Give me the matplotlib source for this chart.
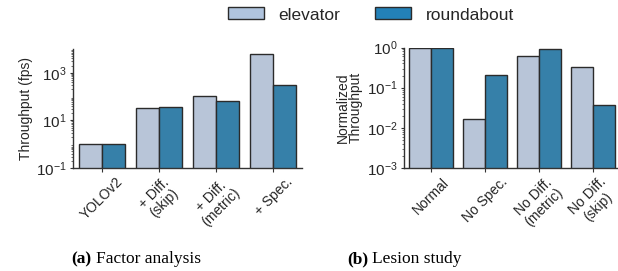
import numpy as np
import matplotlib.pyplot as plt
from matplotlib.patches import Patch
from matplotlib.ticker import LogLocator, NullFormatter

plt.rcParams['font.family'] = ['Liberation Sans', 'DejaVu Sans']
plt.rcParams['mathtext.fontset'] = 'custom'
plt.rcParams['mathtext.rm'] = 'Liberation Sans'
plt.rcParams['mathtext.it'] = 'Liberation Sans:italic'
plt.rcParams['mathtext.bf'] = 'Liberation Sans:bold'

series = ["elevator", "roundabout"]

factor_labels = ["YOLOv2", "+ Diff.\n(skip)", "+ Diff.\n(metric)", "+ Spec."]
factor_elevator = [1.0, 32, 102, 6400]
factor_roundabout = [1.0, 35, 63, 300]

lesion_labels = ["Normal", "No Spec.", "No Diff.\n(metric)", "No Diff.\n(skip)"]
lesion_elevator = [1.0, 0.017, 0.63, 0.33]
lesion_roundabout = [1.0, 0.21, 0.9, 0.036]

bar_colors = ["#b8c5d8", "#3680a9"]
legend_colors = ["#b0c4de", "#2381b8"]
edge = "#2b2b2b"
txt = "#262626"


def draw(ax, labels, vals_a, vals_b, ylim):
    x = np.arange(len(labels))
    w = 0.4
    ax.bar(x - w / 2, vals_a, w, color=bar_colors[0], edgecolor=edge, linewidth=1.0)
    ax.bar(x + w / 2, vals_b, w, color=bar_colors[1], edgecolor=edge, linewidth=1.0)
    ax.set_yscale("log")
    ax.set_ylim(*ylim)
    ax.set_xlim(-0.5, len(labels) - 0.5)
    ax.set_xticks(x)
    ax.set_xticklabels(labels, rotation=45, ha="center", fontsize=10, color=txt,
                       linespacing=1.05)
    ax.yaxis.set_minor_locator(LogLocator(base=10, subs=np.arange(2, 10), numticks=20))
    ax.yaxis.set_minor_formatter(NullFormatter())
    ax.tick_params(axis="x", length=3, color="#333333", pad=2)
    ax.tick_params(axis="y", which="major", length=2.5, labelsize=11, color="#333333",
                   labelcolor=txt, pad=2)
    ax.tick_params(axis="y", which="minor", length=1.5, color="#555555")
    for s in ["top", "right"]:
        ax.spines[s].set_visible(False)
    for s in ["left", "bottom"]:
        ax.spines[s].set_color("#333333")
        ax.spines[s].set_linewidth(1.0)


fig = plt.figure(figsize=(6.18, 2.71), dpi=100)
W, H = 618, 271

ax1 = fig.add_axes([73 / W, 1 - 168 / H, (302 - 73) / W, (168 - 49) / H])
draw(ax1, factor_labels, factor_elevator, factor_roundabout, (0.1, 1e4))
ax1.set_yticks([0.1, 10, 1000])
ax1.set_ylabel("Throughput (fps)", fontsize=10, color=txt, labelpad=2)

ax2 = fig.add_axes([404 / W, 1 - 168 / H, (620 - 404) / W, (168 - 47.5) / H])
draw(ax2, lesion_labels, lesion_elevator, lesion_roundabout, (1e-3, 1.0))
ax2.set_yticks([1e-3, 1e-2, 1e-1, 1])
ax2.set_ylabel("Normalized\nThroughput", fontsize=10, color=txt, labelpad=3,
               linespacing=0.95)

handles = [Patch(facecolor=legend_colors[i], edgecolor=edge, label=series[i])
           for i in range(2)]
leg = fig.legend(handles=handles, loc="center", bbox_to_anchor=(371 / W, 1 - 15 / H),
                 ncol=2, frameon=False, fontsize=12.5, handlelength=2.05,
                 handleheight=0.68, handletextpad=0.85, columnspacing=2.0)
for t in leg.get_texts():
    t.set_color(txt)

fig.text(71 / W, 1 - 259 / H, "(a)", ha="left", va="center", fontsize=12.5,
         family="Liberation Serif", weight="bold")
fig.text(96 / W, 1 - 259 / H, "Factor analysis", ha="left", va="center", fontsize=12.5,
         family="Liberation Serif")
fig.text(347 / W, 1 - 259 / H, "(b)", ha="left", va="center", fontsize=12.5,
         family="Liberation Serif", weight="bold")
fig.text(372 / W, 1 - 259 / H, "Lesion study", ha="left", va="center", fontsize=12.5,
         family="Liberation Serif")

fig.savefig("out.png", dpi=100)
